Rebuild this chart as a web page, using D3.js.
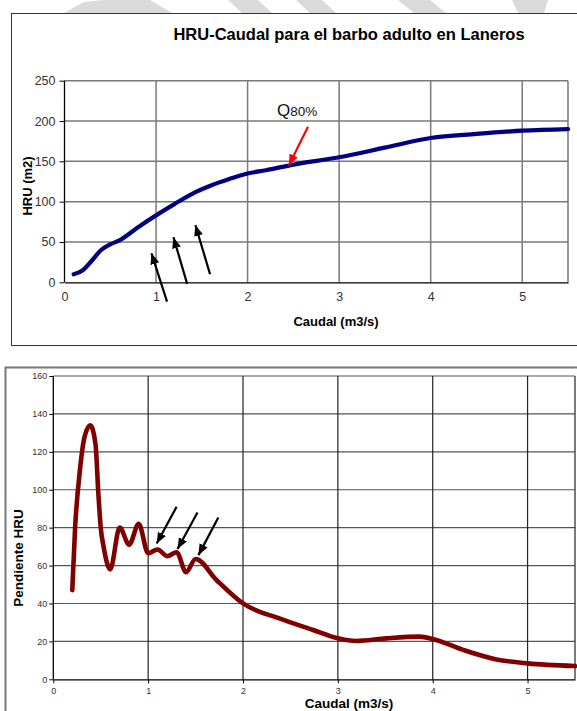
<!DOCTYPE html>
<html>
<head>
<meta charset="utf-8">
<script src="https://cdn.jsdelivr.net/npm/d3@7"></script>
<style>
  body { margin: 0; background: #fff; }
  text { font-family: "Liberation Sans", Arial, sans-serif; }
</style>
</head>
<body>
<div id="dataviz"></div>
<script>
// ---- data ----
// top chart: HRU vs caudal
var hruCaudal = [0.1, 0.2, 0.3, 0.4, 0.5, 0.6, 0.8, 1.0, 1.2, 1.4, 1.6, 1.8, 2.0, 2.2, 2.5, 3.0, 3.5, 4.0, 4.5, 5.0, 5.5]
var hruValues = [10, 15, 27, 40, 47, 52, 68, 83, 97, 110, 120, 128, 135, 139, 146, 155, 167, 179, 184, 188, 190]
var hruXTicks = [0, 1, 2, 3, 4, 5]
var hruYTicks = [0, 50, 100, 150, 200, 250]

// bottom chart: pendiente HRU vs caudal
var pendCaudal = [0.2, 0.23, 0.28, 0.33, 0.39, 0.445, 0.475, 0.5, 0.53, 0.6, 0.7, 0.8, 0.9, 1.0, 1.1, 1.2, 1.3, 1.4, 1.5, 1.72, 2.0, 2.39, 2.74, 3.0, 3.19, 3.51, 3.86, 4.0, 4.32, 4.67, 5.0, 5.5]
var pendValues = [47, 80, 110, 128, 134, 124, 98, 80, 70, 58, 80, 71, 82, 66.5, 68.5, 65, 67, 56.5, 63.5, 52.4, 40, 32, 26, 21.6, 20.2, 21.6, 22.5, 21.3, 15.5, 10.5, 8.4, 7]
var pendXTicks = [0, 1, 2, 3, 4, 5]
var pendYTicks = [0, 20, 40, 60, 80, 100, 120, 140, 160]

// annotation arrows, in data units: [x tail, y tail, x head, y head]
var hruArrows = [[1.12, -24, 0.95, 36], [1.34, -2, 1.19, 56], [1.59, 10, 1.43, 71]]
var q80Arrow = [2.66, 193, 2.45, 145]
var pendArrows = [[1.30, 91, 1.09, 71.6], [1.52, 88, 1.31, 68.7], [1.74, 85.4, 1.53, 65.5]]

var W = 577, H = 711;
var svg = d3.select("#dataviz").append("svg")
    .attr("width", W)
    .attr("height", H)

// arrow heads
var defs = svg.append("defs")
function arrowMarker(id, color) {
    defs.append("marker")
        .attr("id", id)
        .attr("markerUnits", "userSpaceOnUse")
        .attr("markerWidth", 12)
        .attr("markerHeight", 10)
        .attr("refX", 11)
        .attr("refY", 4.5)
        .attr("orient", "auto")
        .append("path")
        .attr("d", "M0,0 L11,4.5 L0,9 Z")
        .attr("fill", color)
}
arrowMarker("headBlack", "#000")
arrowMarker("headRed", "#f00")

// faint watermark stripes at the very top
var stripes = [
    [[64, 13], [84, 2], [104, 0], [150, 0], [172, 13]],
    [[228, 0], [258, 0], [272, 13], [242, 13]],
    [[296, 0], [322, 0], [336, 13], [310, 13]],
    [[398, 0], [430, 0], [446, 13], [414, 13]],
    [[512, 0], [548, 0], [544, 13], [518, 13]]
]
svg.selectAll(".stripe").data(stripes).enter().append("polygon")
    .attr("points", d => d.map(p => p.join(",")).join(" "))
    .attr("fill", "#dadada")

// frames around each chart
svg.append("rect")
    .attr("x", 11.5).attr("y", 13.5)
    .attr("width", 580).attr("height", 332)
    .attr("fill", "#fff").attr("stroke", "#333").attr("stroke-width", 1)

svg.append("rect")
    .attr("x", 5.5).attr("y", 367.5)
    .attr("width", 590).attr("height", 360)
    .attr("fill", "#fff").attr("stroke", "#777").attr("stroke-width", 2)

/**
 * draw one chart panel
 */
function panel(cfg) {
    var x = d3.scaleLinear().domain(cfg.xDomain).range([cfg.left, cfg.right])
    var y = d3.scaleLinear().domain(cfg.yDomain).range([cfg.bottom, cfg.top])
    var g = svg.append("g")

    // horizontal grid
    g.selectAll(".hgrid").data(cfg.yTicks.filter(d => d > cfg.yDomain[0])).enter().append("line")
        .attr("x1", x(cfg.xDomain[0])).attr("x2", x(cfg.xDomain[1]))
        .attr("y1", d => y(d)).attr("y2", d => y(d))
        .attr("stroke", cfg.hGridColor).attr("stroke-width", cfg.gridWidth)

    // vertical grid, plus right border
    g.selectAll(".vgrid").data(cfg.xTicks.filter(d => d > cfg.xDomain[0]).concat([cfg.xDomain[1]])).enter().append("line")
        .attr("x1", d => x(d)).attr("x2", d => x(d))
        .attr("y1", y(cfg.yDomain[0])).attr("y2", y(cfg.yDomain[1]))
        .attr("stroke", cfg.vGridColor).attr("stroke-width", cfg.gridWidth)

    // axes
    var fmt = d3.format("d")
    var ya = g.append("g")
        .attr("transform", "translate(" + x(cfg.xDomain[0]) + ",0)")
        .call(d3.axisLeft(y).tickValues(cfg.yTicks).tickFormat(fmt).tickSize(cfg.yTickSize).tickPadding(cfg.yPad))
    var xa = g.append("g")
        .attr("transform", "translate(0," + y(cfg.yDomain[0]) + ")")
        .call(d3.axisBottom(x).tickValues(cfg.xTicks).tickFormat(fmt).tickSize(cfg.xTickSize).tickPadding(cfg.xPad).tickSizeOuter(0))
    ;[ya, xa].forEach(function(a) {
        a.select(".domain").attr("stroke", "#000").attr("stroke-width", 1.3)
        a.selectAll(".tick line").attr("stroke", "#000")
        a.selectAll(".tick text")
            .attr("fill", "#333")
            .style("font-size", cfg.tickFont + "px")
            .style("font-family", '"Liberation Sans", Arial, sans-serif')
    })
    ya.select(".domain").attr("d", "M0," + y(cfg.yDomain[0]) + "V" + y(cfg.yDomain[1]))

    // the curve
    var pts = cfg.xs.map((d, i) => [d, cfg.ys[i]])
    var line = d3.line()
        .x(d => x(d[0]))
        .y(d => y(d[1]))
        .curve(d3.curveMonotoneX)
    g.append("path")
        .datum(pts)
        .attr("d", line)
        .attr("fill", "none")
        .attr("stroke", cfg.color)
        .attr("stroke-width", cfg.lineWidth)
        .attr("stroke-linecap", "round")
        .attr("stroke-linejoin", "round")

    // arrows
    cfg.arrows.forEach(function(a) {
        g.append("line")
            .attr("x1", x(a[0])).attr("y1", y(a[1]))
            .attr("x2", x(a[2])).attr("y2", y(a[3]))
            .attr("stroke", a[4] || "#000")
            .attr("stroke-width", 2.2)
            .attr("marker-end", a[4] ? "url(#headRed)" : "url(#headBlack)")
    })

    // axis titles
    g.append("text")
        .attr("x", cfg.xTitle[1]).attr("y", cfg.xTitle[2])
        .attr("text-anchor", "middle")
        .style("font-size", cfg.titleFont + "px").style("font-weight", "bold")
        .text(cfg.xTitle[0])
    g.append("text")
        .attr("transform", "translate(" + cfg.yTitle[1] + "," + cfg.yTitle[2] + ") rotate(-90)")
        .attr("text-anchor", "middle")
        .attr("dy", "0.35em")
        .style("font-size", cfg.titleFont + "px").style("font-weight", "bold")
        .text(cfg.yTitle[0])

    return { x: x, y: y, g: g }
}

var hruPanel = panel({
    xDomain: [0, 5.5], yDomain: [0, 250],
    left: 64.5, right: 568, top: 80.7, bottom: 282.3,
    xTicks: hruXTicks, yTicks: hruYTicks,
    hGridColor: "#7a7a7a", vGridColor: "#7a7a7a", gridWidth: 1.5,
    yTickSize: 5, yPad: 4, xTickSize: 0, xPad: 10, tickFont: 12.5,
    xs: hruCaudal, ys: hruValues,
    color: "#000080", lineWidth: 4.2,
    arrows: hruArrows.concat([q80Arrow.concat(["#f00"])]),
    xTitle: ["Caudal (m3/s)", 336, 326], yTitle: ["HRU (m2)", 27, 186],
    titleFont: 13
})

// chart title and Q80% label
svg.append("text")
    .attr("x", 349).attr("y", 40)
    .attr("text-anchor", "middle")
    .style("font-size", "16.5px").style("font-weight", "bold")
    .text("HRU-Caudal para el barbo adulto en Laneros")

var q = svg.append("text")
    .attr("x", hruPanel.x(q80Arrow[0]) - 31).attr("y", 116)
    .attr("fill", "#111")
q.append("tspan").style("font-size", "17px").text("Q")
q.append("tspan").style("font-size", "13.5px").text("80%")

panel({
    xDomain: [0, 5.5], yDomain: [0, 160],
    left: 53.3, right: 575, top: 376, bottom: 679.3,
    xTicks: pendXTicks, yTicks: pendYTicks,
    hGridColor: "#555", vGridColor: "#222", gridWidth: 1.2,
    yTickSize: 4, yPad: 2, xTickSize: 4, xPad: 4, tickFont: 9,
    xs: pendCaudal, ys: pendValues,
    color: "#800000", lineWidth: 4.6,
    arrows: pendArrows,
    xTitle: ["Caudal (m3/s)", 349, 708], yTitle: ["Pendiente HRU", 18, 558],
    titleFont: 13.5
})
</script>
</body>
</html>
